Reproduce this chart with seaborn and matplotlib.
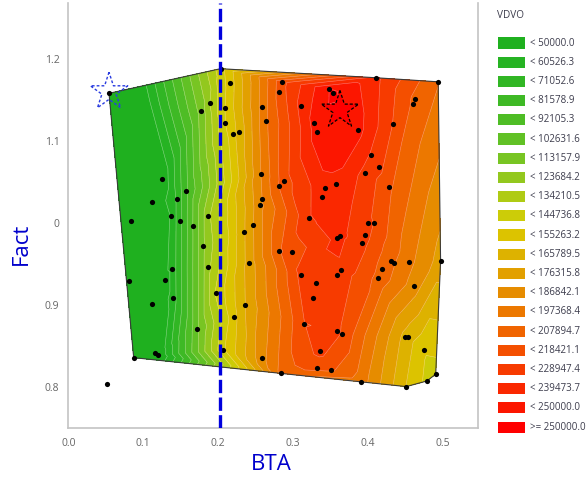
import numpy as np
import matplotlib
matplotlib.use("Agg")
import matplotlib.pyplot as plt
import matplotlib.tri as mtri
from matplotlib.patches import Rectangle
import seaborn as sns

# Measured design points: BTA, Fact and the VDVO response
bta = [0.0543, 0.203, 0.2156, 0.189, 0.1765, 0.2094, 0.2085, 0.220, 0.227, 0.258,
       0.263, 0.285, 0.2815, 0.125, 0.157, 0.1454, 0.112, 0.083, 0.137, 0.149,
       0.1667, 0.1867, 0.179, 0.257, 0.2805, 0.288, 0.2587, 0.256, 0.2467, 0.2347,
       0.2805, 0.186, 0.138, 0.1285, 0.081, 0.139, 0.111, 0.1965, 0.171, 0.116,
       0.120, 0.0872, 0.206, 0.2405, 0.235, 0.221, 0.258, 0.2836, 0.410, 0.4933,
       0.348, 0.3533, 0.310, 0.3276, 0.332, 0.387, 0.463, 0.460, 0.4333, 0.4036,
       0.414, 0.396, 0.4276, 0.357, 0.3427, 0.3383, 0.3213, 0.400, 0.408, 0.359,
       0.362, 0.396, 0.3916, 0.298, 0.4307, 0.4347, 0.4543, 0.4965, 0.418, 0.413,
       0.3107, 0.3587, 0.3632, 0.3307, 0.461, 0.326, 0.3147, 0.358, 0.3645, 0.4493,
       0.453, 0.474, 0.336, 0.332, 0.350, 0.391, 0.4507, 0.478, 0.490]
fact = [1.158, 1.188, 1.170, 1.146, 1.136, 1.140, 1.122, 1.109, 1.111, 1.1415,
        1.1245, 1.172, 1.160, 1.054, 1.039, 1.029, 1.0255, 1.003, 1.009, 1.002,
        0.9966, 1.0088, 0.972, 1.060, 1.0457, 1.051, 1.029, 1.022, 0.998, 0.989,
        0.966, 0.946, 0.944, 0.931, 0.929, 0.909, 0.901, 0.9146, 0.871, 0.842,
        0.8395, 0.8362, 0.8456, 0.952, 0.9007, 0.8857, 0.836, 0.817, 1.177, 1.172,
        1.1635, 1.1586, 1.142, 1.1217, 1.111, 1.113, 1.151, 1.1456, 1.1208, 1.0835,
        1.068, 1.0615, 1.0445, 1.048, 1.043, 1.0315, 1.0063, 1.0006, 1.0006, 0.982,
        0.984, 0.9853, 0.9763, 0.965, 0.9536, 0.9512, 0.9524, 0.954, 0.9442, 0.933,
        0.9373, 0.9373, 0.943, 0.9268, 0.9235, 0.9085, 0.877, 0.869, 0.865, 0.861,
        0.861, 0.845, 0.8447, 0.8233, 0.8216, 0.807, 0.8009, 0.8077, 0.816]
vdvo = [5000, 140000, 150000, 124000, 106000, 145000, 144000, 152000, 158000, 190000,
        195000, 215000, 212000, 40000, 79000, 63000, 35000, 20000, 51000, 68000,
        93000, 121000, 110000, 187000, 208000, 214000, 187000, 184000, 176000, 165000,
        206000, 120000, 53000, 42000, 20000, 54000, 35000, 135000, 99000, 35000,
        38000, 10000, 142000, 170000, 165000, 152000, 183000, 200000, 232000, 198000,
        250000, 252000, 232000, 243000, 245000, 243000, 205000, 206000, 218000, 228000,
        222000, 226000, 210000, 238000, 237000, 235000, 228000, 220000, 218000, 232000,
        232000, 222000, 222000, 212000, 200000, 198000, 190000, 172000, 204000, 205000,
        222000, 226000, 227000, 228000, 182000, 226000, 218000, 220000, 218000, 162000,
        160000, 146000, 222000, 212000, 210000, 192000, 155000, 142000, 140000]

# Sample with no recorded response
extra_bta = [0.0512]
extra_fact = [0.804]

# Response bands
level_values = [50000.0, 60526.3, 71052.6, 81578.9, 92105.3, 102631.6, 113157.9,
                123684.2, 134210.5, 144736.8, 155263.2, 165789.5, 176315.8, 186842.1,
                197368.4, 207894.7, 218421.1, 228947.4, 239473.7, 250000.0]
level_labels = ["< 50000.0", "< 60526.3", "< 71052.6", "< 81578.9", "< 92105.3",
                "< 102631.6", "< 113157.9", "< 123684.2", "< 134210.5", "< 144736.8",
                "< 155263.2", "< 165789.5", "< 176315.8", "< 186842.1", "< 197368.4",
                "< 207894.7", "< 218421.1", "< 228947.4", "< 239473.7", "< 250000.0",
                ">= 250000.0"]
level_colors = ["#1fb01f", "#26b323", "#31b624", "#3eb925", "#4ebd25", "#61c125",
                "#78c523", "#93c81e", "#afcb14", "#cccc08", "#dcc300", "#ddb200",
                "#e2a000", "#e68c00", "#ec7800", "#f06400", "#f44f00", "#f73b00",
                "#fa2800", "#fc1600", "#ff0000"]

x_ticks = [0.0, 0.1, 0.2, 0.3, 0.4, 0.5]
x_tick_labels = ["0.0", "0.1", "0.2", "0.3", "0.4", "0.5"]
y_ticks = [0.8, 0.9, 1.0, 1.1, 1.2]
y_tick_labels = ["0.8", "0.9", "0", "1.1", "1.2"]

cut_bta = 0.2023
best_point = (0.3623, 1.1375)
ref_point = (0.0543, 1.1598)

sns.set_style("white")
plt.rcParams["font.family"] = ["Open Sans", "DejaVu Sans"]

W, H = 587, 479
fig = plt.figure(figsize=(W / 100, H / 100), dpi=100)
ax = fig.add_axes([68.3 / W, 1 - 428 / H, (477.7 - 68.3) / W, (428 - 3) / H])

# Filled response surface over the triangulated design points
tri = mtri.Triangulation(bta, fact)
bounds = [-1e7] + level_values + [1e7]
ax.tricontourf(tri, vdvo, levels=bounds, colors=level_colors, zorder=1)
ax.tricontour(tri, vdvo, levels=level_values, colors="white",
              linewidths=0.4, alpha=0.45, zorder=2)

# Outline of the region covered by the design (convex hull)
def _cross(o, a, b):
    return (a[0] - o[0]) * (b[1] - o[1]) - (a[1] - o[1]) * (b[0] - o[0])

pts = sorted(set(zip(bta, fact)))
lower, upper = [], []
for p in pts:
    while len(lower) >= 2 and _cross(lower[-2], lower[-1], p) <= 0:
        lower.pop()
    lower.append(p)
for p in reversed(pts):
    while len(upper) >= 2 and _cross(upper[-2], upper[-1], p) <= 0:
        upper.pop()
    upper.append(p)
hull = lower[:-1] + upper[:-1] + [lower[0]]
ax.plot([p[0] for p in hull], [p[1] for p in hull], color="#3a3a3a", lw=0.8, zorder=3)

sns.scatterplot(x=bta + extra_bta, y=fact + extra_fact, color="black", s=14,
                linewidth=0, ax=ax, zorder=4, legend=False)

ax.axvline(cut_bta, color="#0000dd", lw=2.4, ls=(0, (4, 1.3)), zorder=5)

ax.scatter([ref_point[0]], [ref_point[1]], marker="*", s=800, facecolors="none",
           edgecolors="#2a3ce0", linewidths=1.0, linestyles=(0, (2, 1.5)), zorder=6)
ax.scatter([best_point[0]], [best_point[1]], marker="*", s=800, facecolors="#ff0000",
           edgecolors="black", linewidths=0.9, linestyles=(0, (2.5, 1.5)), zorder=6)

ax.set_xlim(0, 0.546)
ax.set_ylim(0.7505, 1.268)
ax.set_xticks(x_ticks)
ax.set_xticklabels(x_tick_labels)
ax.set_yticks(y_ticks)
ax.set_yticklabels(y_tick_labels)
ax.set_xticks([0.05, 0.15, 0.25, 0.35, 0.45], minor=True)
ax.set_yticks([0.85, 0.95, 1.05, 1.15], minor=True)
ax.tick_params(which="both", direction="out", color="#b0b0b0", width=1.0,
               labelsize=7.5, labelcolor="#666666")
ax.tick_params(which="major", length=4)
ax.tick_params(which="minor", length=3)
ax.tick_params(axis="x", which="both", pad=3.5)
ax.tick_params(axis="y", which="both", pad=2.5)

for side in ("left", "bottom", "right"):
    ax.spines[side].set_color("#c4c4c4")
    ax.spines[side].set_linewidth(1.2)
ax.spines["top"].set_visible(False)

ax.set_xlabel("BTA", fontsize=16, color="#0000cc")
ax.set_ylabel("Fact", fontsize=16, color="#0000cc")
ax.xaxis.set_label_coords(0.496, -0.062)
ax.yaxis.set_label_coords(-0.088, 0.433)

# Legend of response bands
fig.text(497 / W, 1 - 15 / H, "VDVO", fontsize=7.2, color="#3c3c4c",
         ha="left", va="center")
for i, (c, lab) in enumerate(zip(level_colors, level_labels)):
    yc = 43 + i * 19.2
    fig.patches.append(Rectangle((498 / W, 1 - (yc + 5.5) / H), 27 / W, 11 / H,
                                 transform=fig.transFigure, facecolor=c,
                                 edgecolor="none"))
    fig.text(530 / W, 1 - yc / H, lab, fontsize=7.0, color="#3c3c4c",
             ha="left", va="center")

fig.savefig("out.png", dpi=100)
